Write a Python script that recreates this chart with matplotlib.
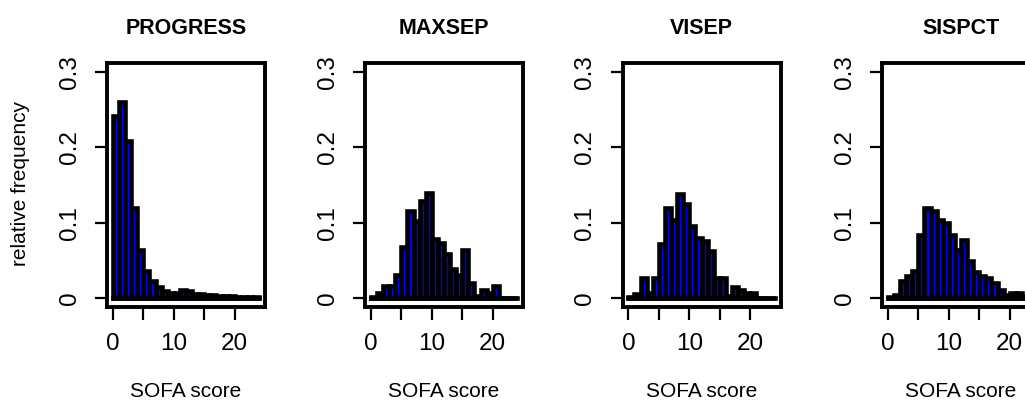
import matplotlib
matplotlib.use("Agg")
import matplotlib.pyplot as plt
import numpy as np

plt.rcParams['font.family'] = ['Liberation Sans', 'DejaVu Sans']

titles = ["PROGRESS", "MAXSEP", "VISEP", "SISPCT"]
bin_edges = list(range(0, 25))  # SOFA score bins 0..24 (width 1)

progress = [0.242, 0.260, 0.208, 0.119, 0.064, 0.036, 0.022, 0.014, 0.009, 0.006,
            0.006, 0.010, 0.009, 0.005, 0.005, 0.004, 0.004, 0.003, 0.002, 0.002,
            0.001, 0.001, 0.001, 0.001]
maxsep = [0.001, 0.006, 0.016, 0.016, 0.030, 0.068, 0.116, 0.102, 0.129, 0.139,
          0.078, 0.073, 0.059, 0.039, 0.030, 0.064, 0.020, 0.002, 0.010, 0.006,
          0.016, 0.0, 0.0, 0.0]
visep = [0.001, 0.005, 0.026, 0.007, 0.026, 0.071, 0.120, 0.104, 0.138, 0.125,
         0.095, 0.080, 0.075, 0.062, 0.026, 0.026, 0.002, 0.015, 0.011, 0.007,
         0.006, 0.0, 0.0, 0.0]
sispct = [0.001, 0.004, 0.022, 0.029, 0.036, 0.083, 0.120, 0.115, 0.103, 0.100,
          0.083, 0.064, 0.077, 0.049, 0.034, 0.029, 0.027, 0.020, 0.010, 0.004,
          0.006, 0.006, 0.003, 0.002]
series = [progress, maxsep, visep, sispct]

xticks = [0, 5, 10, 15, 20]
xticklabels = ["0", "", "10", "", "20"]
yticks = [0, 0.1, 0.2, 0.3]
yticklabels = ["0", "0.1", "0.2", "0.3"]

W, H = 1025, 405
fig = plt.figure(figsize=(W / 100, H / 100), dpi=100)

lefts = [107, 365, 622.5, 882]
top_px, bot_px, w_px = 63, 307, 158

for left, title, vals in zip(lefts, titles, series):
    ax = fig.add_axes([left / W, 1 - bot_px / H, w_px / W, (bot_px - top_px) / H])
    edges = np.array(bin_edges, dtype=float)
    ax.bar(edges[:-1], vals, width=np.diff(edges), align='edge',
           color='#0000FF', edgecolor='black', linewidth=3.3)
    ax.plot([edges[0], edges[-1]], [0, 0], color='black', lw=3.3,
            solid_capstyle='projecting')
    ax.set_xlim(-0.96, 24.96)
    ax.set_ylim(-0.012, 0.312)
    ax.set_xticks(xticks)
    ax.set_xticklabels(xticklabels)
    ax.set_yticks(yticks)
    ax.set_yticklabels(yticklabels, rotation=90, va='center')
    ax.tick_params(axis='both', length=9, width=1.6, labelsize=17.5, pad=10,
                   direction='out', color='black')
    for s in ax.spines.values():
        s.set_linewidth(2.8)
    ax.set_title(title, fontsize=15.5, fontweight='bold', pad=21)
    cx = (left + w_px / 2) / W
    fig.text(cx, 1 - 397 / H, "SOFA score", ha='center', va='baseline', fontsize=15)

fig.text(21 / W, 1 - 184 / H, "relative frequency", rotation=90,
         ha='center', va='center', fontsize=15)

fig.savefig("out.png", dpi=100)
